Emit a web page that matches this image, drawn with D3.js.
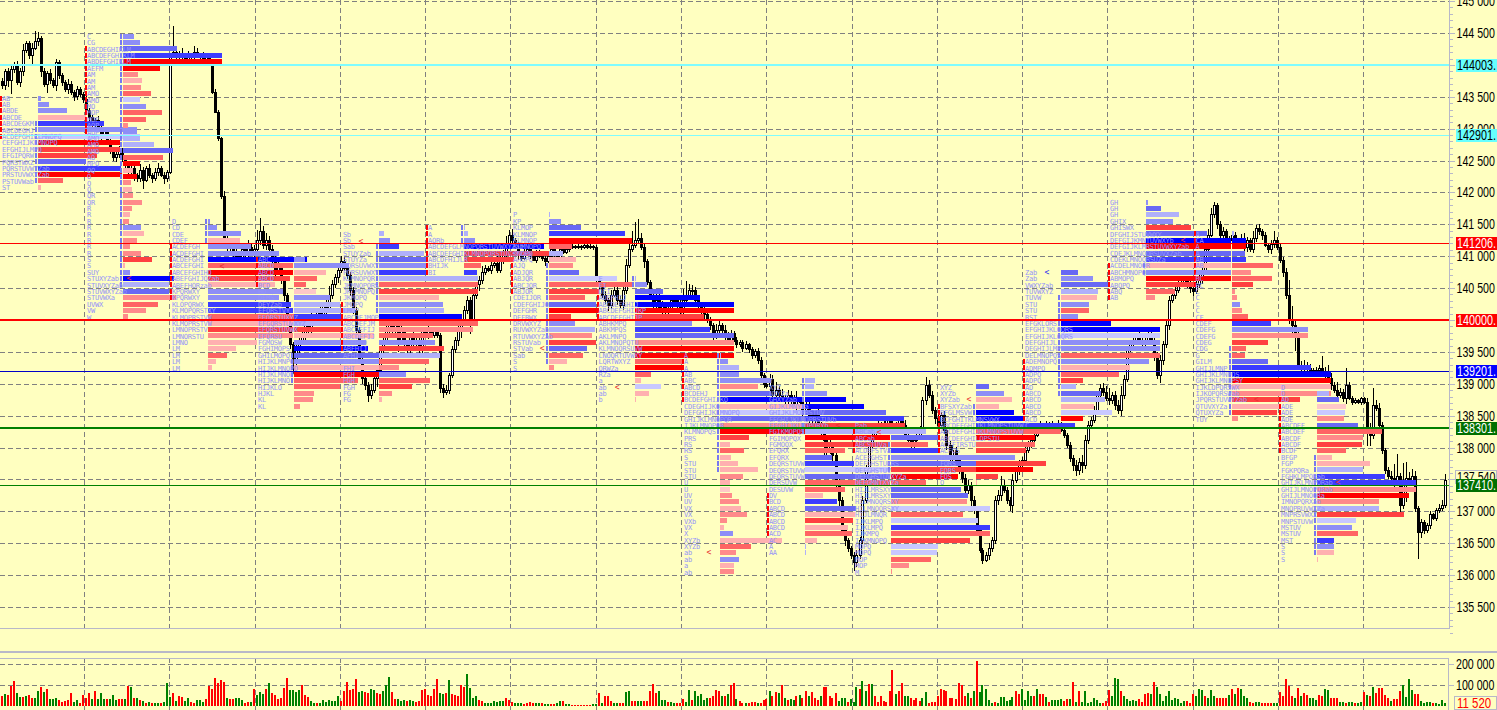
<!DOCTYPE html>
<html><head><meta charset="utf-8"><title>Market profile</title>
<script src="https://cdn.jsdelivr.net/npm/d3@7"></script>
<style>html,body{margin:0;padding:0;background:#ffffc0;overflow:hidden}svg{display:block}</style>
</head><body><svg id="c" width="1497" height="710"></svg>
<script>
// price series, in tens of points; each bar opens at the previous close
const candleClose=[
14368,14389,14376,14392,14401,14373,14389,14423,14433,14414,14426,14436,14442,14389,14370,14386,14376,14368,14404,14383,14373,14361,14370,14357,14351,14361,14353,14345,
14329,14317,14306,14313,14301,14290,14298,14282,14266,14254,14259,14266,14251,14243,14232,14238,14227,14222,14235,14219,14238,14227,14222,14232,14238,14227,14222,14232,
14415,14420,14411,14417,14414,14408,14415,14411,14420,14415,14412,14408,14414,14404,14357,14326,14285,14193,14125,14117,14113,14106,14100,14097,14110,14102,14113,14106,
14110,14125,14138,14117,14125,14110,14097,14078,14086,14062,14039,14000,13961,13937,13953,13968,13976,13992,13984,14003,14000,14012,14008,14023,14015,14039,14055,14066,
14078,14091,14081,14070,14047,14015,13984,13937,13909,13898,13882,13890,13909,13921,13953,13968,13984,14000,13984,14000,13968,13984,13961,13953,13976,13961,13968,13953,
13984,13976,13984,13976,13984,13976,13893,13887,13890,13913,13953,13968,13984,14000,14015,14031,14000,14039,14055,14062,14075,14081,14078,14086,14089,14078,14091,14102,
14117,14133,14125,14117,14102,14097,14106,14110,14102,14094,14100,14105,14097,14091,14100,14110,14103,14097,14110,14106,14110,14113,14116,14114,14116,14113,14117,14114,
14116,14113,14062,14055,14039,14031,14023,14039,14047,14031,14023,14047,14086,14110,14117,14125,14128,14113,14091,14059,14039,14023,14031,14015,14023,14012,14018,14031,
14031,14023,14015,14031,14039,14047,14047,14031,14023,14015,14008,14000,13992,13976,13984,13992,13984,13976,13968,13979,13968,13961,13965,13956,13961,13953,13945,13950,
13937,13913,13899,13896,13906,13882,13890,13882,13877,13874,13882,13874,13866,13874,13871,13858,13866,13851,13843,13851,13835,13827,13811,13796,13804,13788,13749,13717,
13670,13654,13642,13631,13620,13631,13654,13717,13764,13804,13819,13827,13835,13827,13835,13843,13835,13827,13835,13843,13835,13819,13811,13804,13811,13819,13827,13874,
13898,13882,13858,13846,13835,13851,13827,13804,13788,13796,13780,13764,13752,13733,13741,13717,13701,13670,13639,13623,13631,13642,13654,13717,13725,13741,13733,13717,13709,13749,
13764,13772,13780,13796,13804,13811,13819,13827,13835,13827,13835,13827,13835,13827,13835,13827,13819,13804,13783,13772,13764,13777,13772,13811,13835,13843,13858,13882,13893,
13887,13877,13874,13882,13866,13858,13882,13906,13953,13961,13968,13976,13968,13961,13968,13976,13968,13945,13913,13937,13961,13992,14031,14039,14047,14055,14059,14062,14055,14050,14044,14055,14062,
14078,14110,14133,14165,14180,14149,14133,14138,14128,14125,14133,14121,14125,14128,14113,14125,14110,14128,14144,14138,14133,14117,14110,14119,14125,14113,14094,14075,14039,14000,13992,13976,13929,13924,13929,13924,13921,13918,13921,13924,13918,13913,13909,13898,13890,13882,13887,13877,13898,13877,13871,13874,13871,13877,13871,
13824,13819,13866,13862,13835,13796,13764,13755,13752,13749,13755,13709,13745,13752,13749,13755,13705,13667,13683,13670,13678,13695,13689,13701,13705,13709,13749];
const wickUp=[
5,4,6,8,3,5,6,9,5,4,8,17,9,3,6,5,8,4,6,3,5,4,8,5,3,6,5,4,
6,3,5,4,7,3,5,4,6,3,5,7,4,5,3,8,6,4,9,5,4,7,3,6,8,4,5,3,
3,41,8,5,9,4,7,3,10,6,4,8,5,4,3,5,3,2,9,6,8,4,7,5,3,9,12,6,
8,16,22,9,12,6,8,5,9,4,6,3,5,4,8,10,6,9,5,12,7,6,8,5,9,14,8,6,
12,9,7,6,5,4,6,5,3,8,4,10,7,9,6,5,8,4,9,6,5,7,4,6,3,9,5,7,
5,4,6,3,5,4,3,6,8,4,6,5,9,4,7,6,5,8,4,7,9,6,4,8,5,12,9,8,
14,8,9,4,6,5,8,3,6,4,9,5,3,6,4,7,5,3,6,2,3,2,3,2,4,2,3,2,
3,2,4,5,3,6,4,8,5,4,6,10,9,14,22,28,30,8,6,5,4,3,9,12,6,4,8,5,
8,6,10,18,22,9,8,5,7,4,6,8,5,4,9,6,4,8,5,6,4,5,3,4,6,3,5,4,
6,5,4,5,9,8,12,6,10,5,8,6,9,14,6,8,10,5,8,6,9,5,7,6,9,5,6,4,
5,6,4,3,5,8,6,7,9,5,8,6,9,5,7,4,6,8,5,7,6,8,9,6,8,6,7,6,
12,8,6,5,9,4,7,5,6,8,5,7,4,6,8,5,7,6,5,4,6,8,5,7,9,14,8,5,6,9,
6,8,5,7,6,4,8,5,6,4,7,5,6,4,8,5,6,4,5,6,9,7,12,8,6,5,7,4,6,
8,10,17,5,6,9,14,8,6,5,7,4,6,9,5,7,6,4,5,8,6,9,7,8,5,6,4,7,5,6,4,6,8,
6,8,9,10,5,4,6,8,5,4,6,5,4,7,8,5,4,12,5,6,4,5,3,6,14,5,7,4,6,24,22,9,7,6,8,5,7,4,6,5,20,9,16,8,5,12,6,5,27,5,4,3,2,3,2,
6,14,27,9,8,5,4,6,8,22,35,5,30,25,10,12,8,4,5,3,4,6,3,5,6,8,9];
const wickDown=[
6,8,10,22,5,4,8,6,5,4,12,3,6,8,5,14,6,4,9,5,6,4,7,5,8,6,4,5,
5,7,3,6,4,8,5,3,6,4,7,5,3,8,6,4,9,5,6,14,3,5,7,4,6,3,8,5,
3,4,5,3,6,2,4,3,5,2,4,3,5,4,3,2,4,3,8,9,5,7,6,4,5,8,6,5,
9,5,7,6,8,5,10,14,8,6,9,5,7,22,9,6,5,8,4,6,5,7,6,4,5,3,6,5,
8,5,4,6,9,5,7,6,9,8,10,6,5,14,8,6,5,9,12,7,18,6,9,5,7,6,5,8,
7,5,6,4,5,4,8,9,5,6,4,5,9,12,8,5,22,7,6,9,5,4,3,6,5,4,5,3,
4,6,5,3,8,5,3,4,6,2,5,3,4,6,2,3,4,3,2,3,2,3,2,3,2,3,2,3,
2,3,5,8,4,6,9,5,3,7,4,8,6,5,3,4,5,3,9,4,5,6,10,4,5,8,6,5,
6,8,10,6,5,7,9,4,6,8,9,5,7,14,6,9,5,7,4,6,3,5,4,6,3,5,6,4,
6,4,5,3,8,6,5,7,6,9,5,8,6,10,7,9,5,12,8,6,9,14,22,8,6,9,12,8,
7,9,6,5,14,8,6,5,4,3,5,4,3,4,5,4,3,4,5,3,4,6,3,5,4,3,4,5,
8,5,6,9,7,5,6,8,9,12,6,5,7,9,6,8,5,6,4,5,3,8,6,5,7,9,5,6,8,12,
5,7,9,6,4,5,4,3,4,3,4,3,4,3,4,3,4,4,6,8,9,7,12,5,6,4,5,7,6,
6,4,8,5,7,5,9,6,4,3,4,3,4,3,4,3,4,9,6,12,8,5,7,4,6,5,4,6,5,8,6,4,5,
5,4,6,3,5,7,4,6,8,3,5,9,4,6,5,7,4,5,6,4,8,3,5,7,6,4,5,8,6,7,18,24,6,4,5,6,4,5,7,4,6,5,4,8,5,6,4,5,9,3,4,3,2,4,3,
22,16,5,4,8,6,5,4,6,12,8,18,6,30,8,10,6,41,9,6,4,5,3,4,3,5,4];
// volume in thousands; negative = red bar, positive = green bar
const volume=[
-48,58,-53,-97,-121,63,44,-44,48,-53,-39,39,73,-92,68,-82,34,34,39,-29,-19,-24,-29,-63,19,29,-14,-53,-39,-63,34,-73,34,63,34,-34,34,53,29,-34,-34,34,-97,92,-39,39,-29,24,-14,19,-14,14,14,-14,19,111,44,-63,24,-48,-44,24,39,-19,-14,29,29,19,-34,-97,-82,-131,-111,-126,-116,39,-34,-34,39,39,29,-14,-19,19,-82,53,68,58,-82,111,-63,-53,-34,-39,-87,-131,78,78,68,78,
-98,-52,-42,24,14,-14,14,28,19,28,24,24,48,-24,
-73,-116,-77,-83,-128,68,73,-68,-63,83,77,-63,-58,73,100,136,-68,-34,34,24,29,-24,29,24,-19,-24,-77,-82,
-53,-48,-83,-130,63,58,-63,125,-58,-53,-48,-98,-92,153,88,38,48,-29,-24,14,14,14,24,19,24,24,-39,-29,
-19,14,14,14,-9,-14,-19,-14,14,14,-14,9,9,-9,-9,14,24,-24,9,9,-4,-4,-4,-4,-4,-4,-4,9,9,
-63,14,-48,-48,-24,14,14,-14,-14,68,72,-24,-24,24,24,-24,-24,-72,-104,-63,72,29,29,-19,19,14,-14,-14,
-34,19,77,-29,72,48,58,29,38,-38,-48,-77,-72,48,-48,57,-102,-110,34,-24,-14,14,-14,-19,-19,14,-14,-29,-34,
72,-48,-68,63,-100,38,-29,34,29,-48,53,-38,-73,48,-68,-38,-29,48,-92,-92,-48,-38,-63,24,38,38,-19,34,19,
92,-82,120,72,-105,105,-48,-19,-48,-24,-19,-72,-170,58,-72,-110,48,48,-38,-29,-38,-24,38,68,-14,-19,-19,-48,
-82,-77,-72,-38,-38,-34,-110,-102,-48,62,-38,72,-212,68,98,82,29,14,-19,14,43,43,24,29,43,-72,-58,82,
29,72,48,-48,82,-58,-58,43,-19,29,29,29,34,-24,-34,34,-115,19,-72,19,72,14,19,38,29,14,-14,-24,
-78,48,135,130,-72,48,34,24,29,24,-34,-19,-58,-63,58,-112,92,58,24,48,72,29,38,34,14,24,-24,-14,-58,48,82,
78,-48,39,77,48,-39,-39,-39,-39,53,-82,58,-87,82,48,39,-19,-14,19,19,-14,-14,-14,-14,14,14,-68,-48,-128,-97,-48,39,-87,48,-63,-53,39,39,29,-53,-48,82,77,-39,-39,-39,19,19,-14,19,19,-14,14,19,-68,53,-48,92,-63,-87,-87,-53,-39,24,-34,-34,-73,102,44,128,77,-58,-58,24,14,19,19,-14,14,9,29,14];
const dayLineBars=[27.5,55.8,84.5,112.8,141.2,169.5,198,226.5,254.8,283.5,311.8,340.2,368.5,397,425.5,453.8,482];
const priceTicks=[135500,136000,136500,137000,137500,138000,138500,139000,139500,140000,140500,141000,141500,142000,142500,143000,143500,144000,144500,145000];
const minorTicks=d3.range(135100,145000,100);
const volumeTicks=[100000,200000];
const levelPrices=[144003,142901,141206,140000,139201,138301,137410];
const levelLabels=["144003.","142901.","141206.","140000.","139201.","138301.","137410."];
const levelColors=["#7ffcff","#7ffcff","#ff0000","#ff0000","#0000c8","#008000","#008000"];
const levelWidths=[2,1,1,2,1,2,1];
const labelFills=["#66ffff","#66ffff","#ff0000","#ff0000","#0000ff","#007000","#007000"];
const labelInks=["#000","#000","#fff","#fff","#fff","#fff","#fff"];
const openMarkBars=[42.5,73.5,119.8,170.2,180.2,205.2,235.8,278.8,292.5,322.5,348.5,393.8,418.2,445.5];
const openMarkPrices=[140660,140850,141240,141050,139560,138950,136360,138350,138240,138760,140750,141250,138760,137460];
const openMarkSide=[1,1,1,1,1,1,1,1,1,1,-1,1,1,1];
// market profiles: [TPO letters, size, delta shade]
const profile0=[["AB",3,-4],["AB",11,-4],["ABDE",29,-4],["ABCDE",48,5],["ABCDEGKM",66,-2],["ABCDEGHJ",99,-4],["ACDEFGHIKLMNOPQ",102,-6],["CEFGHIJKLMNOPQ",82,1],["EFGHIJLMPQ",82,2],["EFGIPQRW",59,2],["PQRSTWXZ",48,-3],["PQRSTUVWYZab",83,-2],["PRSTUVWXYZab",84,1],["PSTUVWab",25,3],["ST",3,5]];
const profile1=[["C",11,-4],["CG",17,-4],["ABCDEGHIKLM",54,-3],["ABCDEFGHIKLM",99,-2],["ABDEFGHIKLM",99,1],["AEFM",37,1],["AM",15,4],["AM",19,5],["AM",18,4],["AMO",28,3],["AMO",17,-6],["MO",23,-4],["MOP",39,3],["MOP",23,3],["AOP",5,4],["AOP",14,-4],["AMO",17,-5],["AMO",31,-5],["AMO",50,-3],["AO",40,3],["MPQ",17,1],["OQ",10,5],["O",14,1],["Q",8,4],["Q",9,5],["QR",10,4],["QR",19,4],["R",9,4],["R",7,5],["R",6,4],["R",18,-4],["R",21,5],["R",14,4],["R",7,4],["R",18,4],["S",29,2],["S",2,5],["SUY",7,-4],["STUXYZab",51,-1],["STUVXYZab",46,-5],["STUVWXYZab",46,-3],["STUVWXa",53,4],["UVWX",35,3],["VW",23,4],["W",5,4]];
const profile2=[["D",2,-4],["CD",9,-4],["CDE",33,-4],["CDEF",32,5],["ACDEFGH",43,-4],["ACDEFGHI",71,-4],["ACDEFGHI",99,-1],["ABCEFGHI",85,3],["ABCEFGHIHO",85,1],["ABEFGHIJQZab",82,2],["ABEFHORzab",67,5],["KPQRWXY",75,-4],["KPQRWXY",71,-4],["KLOPQRWX",83,-2],["KLMOPQRSTXY",85,-2],["KLMOPRSTVW",90,3],["KLMOPRSTVW",85,5],["LMNOPRSTV",85,2],["LMNORSTU",85,4],["LMNO",49,5],["LM",28,5],["LM",19,3],["LM",8,5],["LM",4,5]];
const profile3=[["ABC",11,-4],["ABCD",55,-4],["ABCD",32,5],["ABCD",23,3],["BCD",12,3],["BD",22,6],["DEMS",36,-4],["DEYZab",46,-5],["EFQRSTVY",61,-5],["EFQRSTUXYZ",48,-2],["EFGQRSTUWXYZ",47,-5],["EFQRSTUVWX",48,2],["EFQRSU",80,5],["FGMOSW",72,-4],["FGHIMOPS",74,-1],["GHILMOPQ",85,-3],["HIJKLMNPQ",85,-4],["HIJKLMNOPQ",105,5],["HIJKLMNOP",85,1],["HIJKLMNO",64,3],["HIJKLO",46,3],["HJKL",20,4],["KL",19,4],["KL",6,4]];
const profile4=[["Sb",5,-5],["Sb",11,-4],["Sab",20,-2],["STUYZab",45,-5],["STUYZa",48,-3],["PQRSUVWXY",48,-4],["PQRSUVWXY",48,-2],["KLMNOPQR",99,-5],["JKMNOPQRS",99,3],["JKLMNOPQ",99,2],["JKMOPQ",60,5],["JMOPQ",64,-4],["LMOP",65,-5],["ABCDEJMOP",83,-1],["ABCDEFJM",99,3],["ABCDEFIJ",94,4],["ABCDEFIJ",54,3],["ABFHIO",56,-4],["ABFHIJ",65,2],["AFHI",61,-5],["AFHI",50,3],["FHI",20,4],["FGH",27,-4],["FGH",51,3],["FGH",33,2],["FG",13,4],["FG",3,5]];
const profile5=[["A",1,-5],["A",4,-5],["AORb",11,-4],["ABCDEFGLMNOPQRSTUVWXYZab",80,-1],["ABCDEFGHIKLMNOPQRSTUVXYZab",85,2],["ABCDFHIJLR",50,2],["BHIJK",17,3],["BI",13,-2]];
const profile6=[["P",1,-5],["KP",12,-4],["KLMOP",32,-3],["KLMNOP",76,-2],["KLMNOP",83,1],["KLMNOPQ",23,3],["KNOPQ",14,-5],["AHOPQ",27,5],["AJQ",24,4],["ADJQR",30,-3],["ABJQR",68,-6],["ABCJOR",85,3],["ABJOR",50,2],["CDEIJOR",36,3],["CDEFGHIJO",47,-3],["DEFGHR",50,1],["DEFRWX",22,2],["DRVWXYZ",26,-4],["RUVWXYZab",46,-5],["RTUVWXYZab",43,4],["RSTUVab",47,2],["STVab",38,-3],["Sab",34,3],["S",18,5],["S",5,4]];
const profile7=[["E",1,-5],["EI",12,-4],["DEI",28,-3],["ADEFHIJ",65,-1],["ABCDEFGHIJ",99,-1],["ABCDEFGHIJKP",99,1],["ABCDEFGHIJP",69,2],["ABHKMPQ",57,-4],["ABKMPQS",75,-2],["AKLMNPQ",99,-3],["AKLMNOPQTU",99,4],["KLMNOQRSUVW",99,1],["LNOQRTUVWXY",99,1],["LQRTWXYZ",49,3],["QRWZa",49,1],["RZa",16,3],["a",6,5],["ab",26,-6],["ab",14,5],["b",1,5]];
const profile8=[["A",1,-5],["A",8,-4],["A",19,-5],["AB",19,-4],["ABC",51,-4],["ABCD",38,4],["BCDEHJ",51,-3],["BCDEFGHIJKQ",83,-1],["CDEGHIJKQ",85,5],["DEFGHIJKLMNOPQ",85,-6],["GHIJKLMNOPQR",85,-3],["IJKLMNOPQR",85,4],["KLMNOPQS",85,1],["PRS",29,2],["RS",10,5],["RS",24,3],["S",11,5],["STU",18,5],["STU",38,5],["STU",23,4],["U",10,5],["U",10,6],["UV",12,4],["UV",19,4],["VX",21,5],["VX",27,4],["VXb",7,4],["VX",4,5],["X",13,-4],["XYZb",62,5],["XYZb",31,3],["ab",16,4],["ab",19,-4],["a",14,5],["ab",14,4]];
const profile9=[["Y",10,-5],["XYZ",9,-5],["NXYZa",22,-4],["GHXYZab",41,-1],["GIJKLMNYZa",59,-1],["GHIJKLMOPRSTUV",81,-3],["EFGHIJKLMOPRSTUVb",99,-2],["EFGHIJKLMOPQRYb",99,2],["FGIKMOPQS",120,-5],["FGIMOPQX",85,1],["FGMOQX",85,2],["EFQRX",40,3],["EFQRX",27,-3],["DEQRSTUVW",49,-2],["DEQRSTUVW",85,-6],["DEQRSTUVW",85,-3],["DERSUVW",85,3],["DESUVW",40,3],["DV",18,5],["BCD",32,-2],["ABCD",51,-3],["ABCD",50,5],["ABCD",48,2],["ABCD",43,5],["ACD",47,3],["AC",12,5],["A",1,-5],["AA",1,-5]];
const profile10=[["Pab",14,2],["ABCab",35,-5],["ABCab",47,-3],["ABCSTUVa",37,3],["ACDEFSTVa",47,-2],["ACEFGHST",85,-4],["DEFGHSTUKRS",85,-3],["DEFGHSTUV",85,2],["DEFGHSTUVXYZa",67,1],["DEFGMNTXYZa",35,3],["HIJLMRSXY",70,-3],["HIJLMRSXY",77,-3],["HILMNOQRSXY",76,4],["HILMNOQRSXY",99,-6],["HIJLMNQR",72,3],["IJKLMPQ",87,-6],["IJKLMPQ",99,-2],["IJKMPQ",99,3],["IJKMNOPQ",79,2],["MOPQ",47,-6],["MOPQ",46,-6],["MOP",40,3],["MOP",18,4],["M",1,4]];
const profile11=[["XYZ",13,-3],["XYZb",28,-4],["XYZab",36,5],["BFSXYZab",23,5],["BFGLMSVW",38,-1],["BCFGHITKLMNSVWX",48,-1],["ABCDEFGHIJKLMNOPSTUVW",85,-2],["ABCDEFGHIJKLMNOPSTUVW",85,3],["ABCDEFGHILOPSTU",59,1],["ACEFIRSTU",59,3],["ACFQS",50,2],["FOS",39,-4],["FORS",70,2],["FORS",57,1],["FOS",22,2],["Q",1,5]];
const profile12=[["Zab",17,-3],["Zab",32,-4],["VWXYZab",48,-3],["TUVWXYZ",37,-5],["TUVW",36,5],["STU",28,-4],["STU",28,3],["RST",17,-4],["EFGKLORS",50,-1],["EFGHIJKLOQRS",99,-1],["EFGHIJKLOQRS",99,-6],["DEFGHIJL",99,-4],["DEGHIJLMP",99,-4],["DELMNOPQS",99,3],["ADEMNOPQ",88,-4],["ADMPQ",69,5],["ADPQ",58,3],["ADPQ",22,2],["AD",15,-5],["ABCD",40,-3],["ABCD",44,-5],["ABCD",33,5],["ABCD",51,-6],["ACD",22,1],["C",14,-2]];
const profile13=[["GH",2,-4],["GH",15,-3],["GH",33,-5],["GHIX",27,-4],["GHISWX",45,2],["DFGHIJSTUVWXY",61,-3],["DEFGIJKMNTUVWXYb",85,-1],["DEFGIJKLMRSTUVWXYZab",85,1],["CDEJKLMNOQRSUVXZab",85,-3],["CDEKLMNOQRSUZa",85,-2],["ACDELMNOQR",85,5],["ABCHMNOPQ",85,-4],["ABMOPQ",85,1],["ABOPQ",49,2],["ABQ",29,3],["AB",9,4]];
const profile14=[["A",2,-5],["CA",14,-1],["A",14,1],["A",13,-3],["AB",14,-2],["AB",41,3],["ABC",19,4],["BC",40,3],["BC",21,2],["C",3,4],["C",5,4],["C",8,-4],["C",10,4],["CF",16,3],["CDEF",39,-2],["CDEFG",76,-4],["CDEFG",76,4],["CDEG",36,2],["CDG",14,3],["G",13,3],["GILM",36,-3],["GHIJLMNP",79,-2],["GHIJKLMNPOS",99,-1],["GHIJKLMNOPSY",99,1],["IJKLOPQRSWX",99,5],["IJKOPQRSWab",99,4],["JPQRSTUVWYZab",68,2],["QTUVXYZa",47,5],["QTUXYZa",45,2],["TUY",6,4]];
const profile15=[["D",14,5],["D",12,-5],["AD",22,-3],["ADE",29,6],["ADE",28,-6],["ADE",27,4],["ABCDEF",41,-3],["ABCDEF",65,3],["ABCDF",46,4],["ABCDF",45,2],["BCDF",29,3],["BFGP",15,5],["FGP",53,5],["FGKPQRa",46,-5],["FGHKLMPQRab",68,-2],["GHIJKLMNPQRab",99,-2],["GHIJLMNOPQRab",99,4],["GHIJLMNOQRa",92,1],["IMNOPQRXab",62,4],["MNOPRUVWXZa",62,-5],["MNPRSVWXZ",87,2],["MNPSTUVW",39,-6],["MSTUV",35,-4],["MSTUV",41,3],["MST",17,-2],["S",17,-4],["S",17,5],["S",1,5]];
const profiles=[profile0,profile1,profile2,profile3,profile4,profile5,profile6,profile7,profile8,profile9,profile10,profile11,profile12,profile13,profile14,profile15];
const profileTop=[143480,144450,141550,140950,141350,141450,141650,140650,139450,139050,138350,138950,140750,141850,141350,138950];
const profileDay=[-0.83,27.5,55.8,84.5,112.8,141.2,169.5,198,226.5,254.8,283.5,311.8,340.2,368.5,397,425.5];
const openRange=[[0,6],[2,15],[4,12],[0,4],[11,18],[0,7],[8,12],[3,6],[0,7],[18,24],[1,4],[3,10],[14,23],[10,15],[0,8],[2,10]];
const valueRange=[[4,13],[0,39],[0,3],[15,19],[2,12],[0,2],[8,23],[0,1],[0,18],[0,8],[3,8],[3,4],[4,19],[10,11],[18,28],[11,26]];

const svg=d3.select("#c");
const bg="#ffffc0", frame="#b8b8c8", gridC="#808080";
const x=d3.scaleLinear().domain([0,481]).range([1.5,1444.5]);
const y=d3.scaleLinear().domain([135500,145000]).range([607,1.1]);
const yVol=d3.scaleLinear().domain([0,200000]).range([706,664]);
const barLen=d3.scaleLinear().domain([0,100]).range([0,100]);
const shade=d3.scaleOrdinal().domain([-1,-2,-3,-4,-5,-6,1,2,3,4,5,6])
  .range(["#0000ff","#3c3cff","#6868f4","#8e8ef6","#b0b0fa","#c8c8ff","#ff0000","#ff4040","#ff6464","#ff8a8a","#ffb0b0","#ffc8c8"]);

svg.append("rect").attr("width",1497).attr("height",710).attr("fill",bg);
const crisp=svg.append("g").attr("shape-rendering","crispEdges");
const num=d3.formatLocale({thousands:" ",grouping:[3],decimal:".",currency:["",""]}).format(",");
const labelFont="'Liberation Sans',Arial,sans-serif";

// grid
const grid=crisp.append("g").attr("stroke",gridC).attr("stroke-dasharray","5,3");
grid.selectAll("line.h").data(priceTicks).join("line").attr("class","h").attr("x1",0).attr("x2",1449).attr("y1",d=>Math.round(y(d))+.5).attr("y2",d=>Math.round(y(d))+.5);
grid.selectAll("line.vh").data(volumeTicks).join("line").attr("class","vh").attr("x1",0).attr("x2",1449).attr("y1",d=>Math.round(yVol(d))+.5).attr("y2",d=>Math.round(yVol(d))+.5);
grid.selectAll("line.v").data(dayLineBars.slice(0,-1)).join("line").attr("class","v").attr("x1",d=>Math.round(x(d))+.5).attr("x2",d=>Math.round(x(d))+.5).attr("y1",0).attr("y2",628);
grid.selectAll("line.w").data(dayLineBars.slice(0,-1)).join("line").attr("class","w").attr("x1",d=>Math.round(x(d))+.5).attr("x2",d=>Math.round(x(d))+.5).attr("y1",658).attr("y2",710);

// candles
const bars=candleClose.map((c,i)=>{const o=i?candleClose[i-1]:c+6;return {i,o:o*10,c:c*10,h:(Math.max(o,c)+wickUp[i])*10,l:(Math.min(o,c)-wickDown[i])*10};});
const cg=crisp.append("g");
cg.selectAll("line").data(bars).join("line").attr("x1",d=>Math.round(x(d.i))+.5).attr("x2",d=>Math.round(x(d.i))+.5).attr("y1",d=>y(d.h)).attr("y2",d=>y(d.l)).attr("stroke","#000");
cg.selectAll("rect").data(bars).join("rect").attr("x",d=>Math.round(x(d.i))-1+.5).attr("width",2).attr("y",d=>y(Math.max(d.o,d.c))).attr("height",d=>Math.max(1,Math.abs(y(d.o)-y(d.c)))).attr("fill",d=>d.c>=d.o?"#fff":"#000").attr("stroke","#000");

// profiles
const rows=[];
profiles.forEach((rs,p)=>rs.forEach((r,k)=>rows.push({p,k,text:r[0],size:r[1],delta:r[2],price:profileTop[p]-k*100,left:x(profileDay[p])})));
const pg=crisp.append("g");
pg.selectAll("rect.bar").data(rows).join("rect").attr("class","bar").attr("x",d=>Math.round(d.left)+39).attr("width",d=>barLen(d.size)).attr("y",d=>Math.round(y(d.price)-2.5)).attr("height",5).attr("fill",d=>shade(d.delta));
pg.selectAll("rect.open").data(rows.filter(d=>d.k>=openRange[d.p][0]&&d.k<=openRange[d.p][1])).join("rect").attr("class","open").attr("x",d=>Math.round(d.left)+1).attr("width",2).attr("y",d=>Math.round(y(d.price)-2.5)).attr("height",5).attr("fill","#ff0000");
pg.selectAll("rect.val").data(rows.filter(d=>d.k>=valueRange[d.p][0]&&d.k<=valueRange[d.p][1])).join("rect").attr("class","val").attr("x",d=>Math.round(d.left)+36).attr("width",2).attr("y",d=>Math.round(y(d.price)-2.5)).attr("height",5).attr("fill","#7878f0");
svg.append("g").attr("font-family","'DejaVu Sans Mono',monospace").attr("font-size",7).attr("letter-spacing",-0.25).attr("fill","#9494fa")
  .selectAll("text").data(rows).join("text").attr("x",d=>d.left+3).attr("y",d=>y(d.price)+2.7).text(d=>d.text);
svg.append("g").attr("font-family","'DejaVu Sans Mono',monospace").attr("font-size",8)
  .selectAll("text").data(openMarkBars).join("text").attr("x",d=>x(d)).attr("y",(d,i)=>y(openMarkPrices[i])+3).attr("text-anchor","middle").attr("fill",(d,i)=>openMarkSide[i]>0?"#e83030":"#3030f0").text("<");

// price levels
const lv=svg.append("g").attr("shape-rendering","crispEdges");
lv.selectAll("line").data(levelPrices).join("line").attr("x1",0).attr("x2",1449).attr("y1",d=>Math.round(y(d))).attr("y2",d=>Math.round(y(d))).attr("stroke",(d,i)=>levelColors[i]).attr("stroke-width",(d,i)=>levelWidths[i]);

// frames
const fr=svg.append("g").attr("shape-rendering","crispEdges").attr("stroke",frame);
fr.append("line").attr("x1",1449.5).attr("x2",1449.5).attr("y1",0).attr("y2",628);
fr.append("line").attr("x1",0).attr("x2",1450).attr("y1",628.5).attr("y2",628.5);
fr.append("line").attr("x1",0).attr("x2",1497).attr("y1",651.5).attr("y2",651.5).attr("stroke-width",2);
fr.append("line").attr("x1",0).attr("x2",1449).attr("y1",658.5).attr("y2",658.5);
fr.append("line").attr("x1",1448.5).attr("x2",1448.5).attr("y1",658).attr("y2",710);

// axes
const styleAxis=(g)=>{g.select(".domain").remove();g.selectAll("line").attr("stroke",frame).attr("shape-rendering","crispEdges");
  g.selectAll("text").attr("x",0).attr("transform","translate(7,0) scale(0.76,1)").attr("fill","#000").attr("font-family",labelFont).attr("font-size",14);};
svg.append("g").attr("transform","translate(1449.5,0)").call(d3.axisRight(y).tickValues(minorTicks).tickSize(3).tickFormat("")).call(g=>{g.select(".domain").remove();g.selectAll("line").attr("stroke",frame).attr("shape-rendering","crispEdges");});
svg.append("g").attr("transform","translate(1449.5,0)").call(d3.axisRight(y).tickValues(priceTicks).tickSize(5).tickFormat(num)).call(styleAxis);
svg.append("g").attr("transform","translate(1449,0)").call(d3.axisRight(yVol).tickValues(volumeTicks).tickSize(5).tickFormat(num)).call(styleAxis);

// volume
crisp.append("g").selectAll("rect").data(volume).join("rect").attr("x",(d,i)=>Math.round(x(i))-1).attr("width",2).attr("y",d=>yVol(Math.abs(d)*1000)).attr("height",d=>yVol(0)-yVol(Math.abs(d)*1000)).attr("fill",d=>d<0?"#ff0000":"#008000");

// current price tags
const lastPrice=137540;
const tag=svg.append("g");
tag.append("rect").attr("x",1455.5).attr("y",y(lastPrice)-6.5).attr("width",41).attr("height",13).attr("fill",bg).attr("stroke",frame).attr("shape-rendering","crispEdges");
tag.append("text").attr("transform",`translate(1457,${y(lastPrice)+5}) scale(0.76,1)`).attr("font-family",labelFont).attr("font-size",14).text(num(lastPrice));
const labs=svg.append("g").selectAll("g").data(levelPrices).join("g").attr("transform",d=>`translate(1456,${Math.round(y(d))})`);
labs.append("rect").attr("y",-6.5).attr("width",41).attr("height",13).attr("fill",(d,i)=>labelFills[i]).attr("shape-rendering","crispEdges");
labs.append("text").attr("transform","translate(1,5) scale(0.77,1)").attr("font-family",labelFont).attr("font-size",14).attr("fill",(d,i)=>labelInks[i]).text((d,i)=>levelLabels[i]);
const lastVolume=11520;
svg.append("rect").attr("x",1454.5).attr("y",696.5).attr("width",42).attr("height",13).attr("fill",bg).attr("stroke",frame).attr("shape-rendering","crispEdges");
svg.append("text").attr("transform","translate(1457,708) scale(0.82,1)").attr("fill","#ff0000").attr("font-family",labelFont).attr("font-size",14).text(num(lastVolume));
</script></body></html>
